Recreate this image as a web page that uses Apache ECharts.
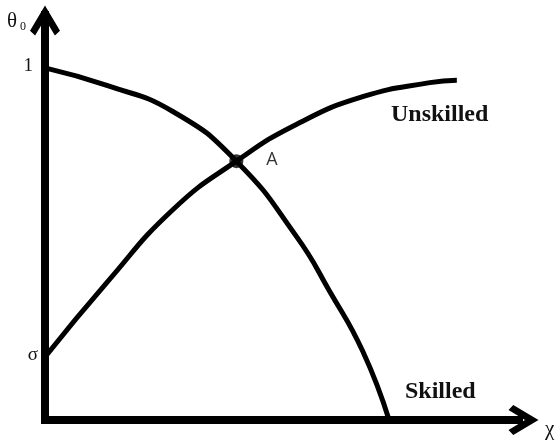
<!DOCTYPE html>
<html>
<head>
<meta charset="utf-8">
<script src="https://cdn.jsdelivr.net/npm/echarts@6/dist/echarts.min.js"></script>
<style>
  html, body { margin: 0; padding: 0; background: #ffffff; }
  #chart { width: 559px; height: 443px; }
</style>
</head>
<body>
<div id="chart"></div>
<script>
// theta_0 against chi for skilled and unskilled workers
const skilledX   = [0, 0.176, 0.364, 0.545, 0.717, 0.811, 0.905, 0.980];
const skilledY   = [1, 0.950, 0.876, 0.735, 0.520, 0.365, 0.195, 0];
const unskilledX = [0, 0.176, 0.364, 0.545, 0.717, 0.905, 1.096, 1.173];
const unskilledY = [0.179, 0.390, 0.597, 0.735, 0.840, 0.918, 0.958, 0.965];

// crossing point A
const pointA = [0.545, 0.735];
const pointALabel = 'A';

// marked values on the vertical axis
const yMarkValues = [1, 0.179];
const yMarkTexts  = ['1', 'σ'];

const xMax = 1.35;
const yMax = 1.15;

const pairs = (xs, ys) => xs.map((x, i) => [x, ys[i]]);

const arrowPath = 'path://M50 0 L100 84 L83 100 L50 45 L17 100 L0 84 Z';
const INK = '#000000';
const SERIF = '"Liberation Serif", "DejaVu Serif", serif';

const chart = echarts.init(document.getElementById('chart'), null, { renderer: 'canvas' });

const axisLineStyle = (offset) => ({
  show: true,
  symbol: ['none', arrowPath],
  symbolSize: [30, 31],
  symbolOffset: [0, offset],
  lineStyle: { color: INK, width: 8, cap: 'square' }
});

const option = {
  animation: false,
  backgroundColor: '#ffffff',
  grid: { left: 45, right: 40, top: 15, bottom: 23, containLabel: false, outerBoundsMode: 'none' },
  xAxis: {
    type: 'value', min: 0, max: xMax,
    axisLine: axisLineStyle(4.5),
    axisTick: { show: false }, axisLabel: { show: false }, splitLine: { show: false }
  },
  yAxis: {
    type: 'value', min: 0, max: yMax,
    axisLine: axisLineStyle(-5.5),
    axisTick: { show: false }, axisLabel: { show: false }, splitLine: { show: false }
  },
  series: [
    {
      name: 'Skilled', type: 'line', smooth: true, showSymbol: false,
      lineStyle: { color: INK, width: 5 },
      data: pairs(skilledX, skilledY), z: 3
    },
    {
      name: 'Unskilled', type: 'line', smooth: true, showSymbol: false,
      lineStyle: { color: INK, width: 5 },
      data: pairs(unskilledX, unskilledY), z: 3
    },
    {
      name: 'A', type: 'scatter', symbol: 'circle', symbolSize: 14,
      itemStyle: { color: INK },
      label: {
        show: true, position: 'right', distance: 23, offset: [0, -1],
        formatter: pointALabel, color: '#000000',
        fontFamily: '"Open Sans", "Noto Sans", sans-serif', fontSize: 18
      },
      data: [pointA], z: 4
    }
  ]
};

chart.setOption(option);

// axis symbols and curve names
const toPx = (x, y) => chart.convertToPixel({ gridIndex: 0 }, [x, y]);
const textEl = (text, x, y, font, align) => ({
  type: 'text', x: x, y: y, z: 10,
  style: {
    text: text, font: font, fill: '#111111',
    textAlign: align, align: align, textVerticalAlign: 'middle', verticalAlign: 'middle'
  }
});

const markRight = [33, 38];
const graphics = yMarkValues.map((v, i) =>
  textEl(yMarkTexts[i], markRight[i], toPx(0, v)[1] - 1.5, '19px ' + SERIF, 'right'));

graphics.push(textEl('θ', 7, 21, '21px ' + SERIF, 'left'));
graphics.push(textEl('0', 20, 26.5, '12px ' + SERIF, 'left'));
graphics.push(textEl('χ', 545, 429, '21px ' + SERIF, 'left'));
graphics.push(textEl('Unskilled', 391, 115, 'bold 24px ' + SERIF, 'left'));
graphics.push(textEl('Skilled', 405, 392, 'bold 24px ' + SERIF, 'left'));

chart.setOption({ graphic: { elements: graphics } });
</script>
</body>
</html>
